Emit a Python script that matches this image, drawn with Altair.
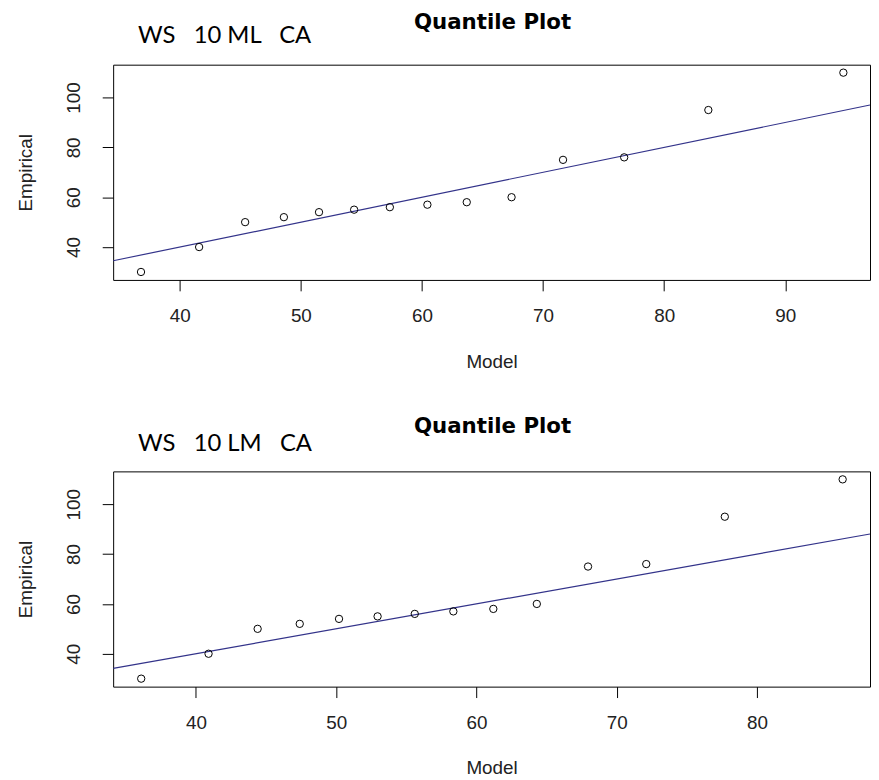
import altair as alt
import pandas as pd

# ---- data ----
empirical = [30, 40, 50, 52, 54, 55, 56, 57, 58, 60, 75, 76, 95, 110]
model_ml = [36.8, 41.6, 45.4, 48.6, 51.5, 54.4, 57.35, 60.45, 63.7, 67.4, 71.65, 76.7, 83.65, 94.8]
model_lm = [36.1, 40.9, 44.4, 47.4, 50.2, 52.95, 55.6, 58.35, 61.2, 64.3, 67.95, 72.1, 77.7, 86.1]

labels = ["WS\u00a0\u00a0 10 ML\u00a0\u00a0 CA", "WS\u00a0\u00a0 10 LM\u00a0\u00a0 CA"]
plot_title = "Quantile Plot"
x_domains = [[34.5, 97.0], [34.1, 88.05]]
y_domain = [26.8, 113.2]
x_ticks = [[40, 50, 60, 70, 80, 90], [40, 50, 60, 70, 80]]
y_ticks = [40, 60, 80, 100]

W, H = 763, 217
FONT = "Liberation Sans"


def panel(model, label, xdom, xt, title_y, label_y):
    df = pd.DataFrame({"Model": model, "Empirical": empirical})
    ref = pd.DataFrame({"Model": xdom, "Empirical": xdom})  # reference line y = x
    xs = alt.Scale(domain=xdom, nice=False, zero=False)
    ys = alt.Scale(domain=y_domain, nice=False, zero=False)
    xax = alt.Axis(values=xt, title="Model", labelPadding=31, labelBaseline="alphabetic",
                   labelFlush=False, titleX=W / 2, titleY=88, titleAlign="center",
                   titleBaseline="alphabetic")
    yax = alt.Axis(values=y_ticks, title="Empirical", labelAngle=270, labelAlign="center",
                   labelBaseline="alphabetic", labelPadding=23, labelFlush=False,
                   titleAngle=270, titleX=-82.5, titleY=H / 2, titleAlign="center",
                   titleBaseline="alphabetic")
    pts = alt.Chart(df).mark_point(shape="circle", filled=False, color="black",
                                   size=55, strokeWidth=1, opacity=1).encode(
        x=alt.X("Model:Q", scale=xs, axis=xax),
        y=alt.Y("Empirical:Q", scale=ys, axis=yax),
    )
    line = alt.Chart(ref).mark_line(color="#33338a", strokeWidth=1.2, clip=True).encode(
        x=alt.X("Model:Q", scale=xs),
        y=alt.Y("Empirical:Q", scale=ys),
    )
    txt = alt.Chart(pd.DataFrame({"t": [label]})).mark_text(
        font="Lato", fontSize=24, align="left", baseline="alphabetic", color="black"
    ).encode(text="t:N", x=alt.value(25), y=alt.value(label_y))
    ttl = alt.Chart(pd.DataFrame({"t": [plot_title]})).mark_text(
        font="DejaVu Sans", fontSize=21.5, fontWeight="bold", align="center",
        baseline="alphabetic", color="black"
    ).encode(text="t:N", x=alt.value(W / 2 + 1), y=alt.value(title_y))
    return alt.layer(line, pts, txt, ttl).properties(width=W, height=H)


top = panel(model_ml, labels[0], x_domains[0], x_ticks[0], -36.3, -22.3)
bottom = panel(model_lm, labels[1], x_domains[1], x_ticks[1], -38.7, -20.3)

chart = alt.vconcat(top, bottom, spacing=43).properties(
    padding={"left": 8, "top": 0, "right": 0, "bottom": 0},
    background="white",
).configure_view(stroke="black", strokeWidth=1).configure_axis(
    domain=False, grid=False, tickColor="black", tickSize=11, tickWidth=1,
    labelFont=FONT, labelFontSize=19, labelColor="#222222",
    titleFont=FONT, titleFontSize=19, titleFontWeight="normal", titleColor="#222222",
)

chart.save("out.html", embed_options={"renderer": "svg", "actions": False})
